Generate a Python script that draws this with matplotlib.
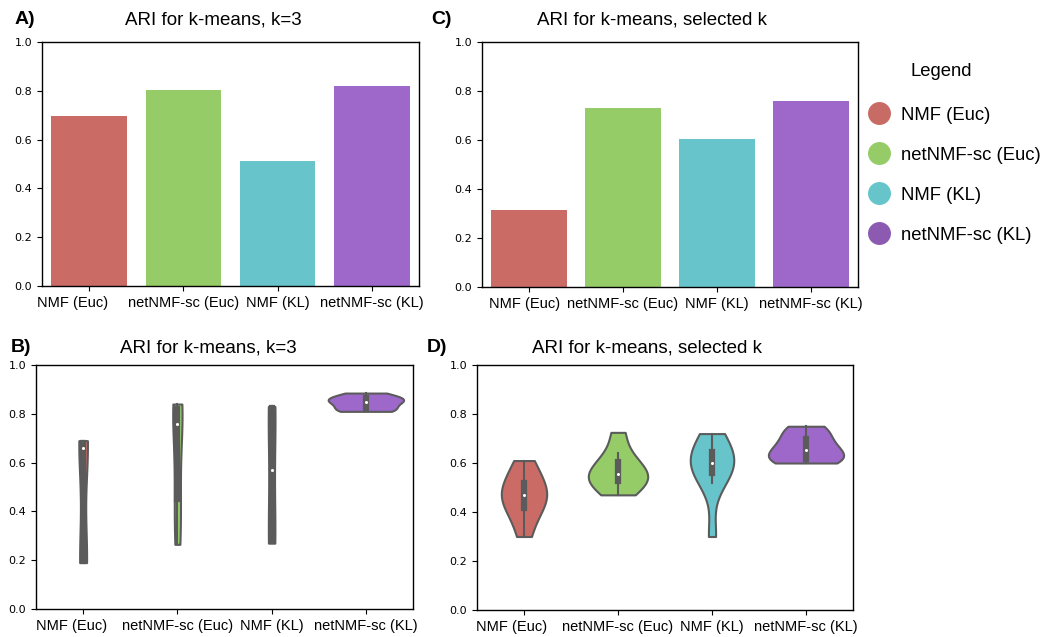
import numpy as np
import pandas as pd
import matplotlib
matplotlib.use("Agg")
import matplotlib.pyplot as plt
import matplotlib.transforms as mtransforms
from matplotlib.lines import Line2D
from matplotlib.collections import PolyCollection, PathCollection
import seaborn as sns

# Data
methods = ["NMF (Euc)", "netNMF-sc (Euc)", "NMF (KL)", "netNMF-sc (KL)"]
colors = ["#CB6B66", "#95CC68", "#68C4CB", "#9E68CB"]
legend_colors = ["#C96B65", "#95CC68", "#66C4CB", "#8C5AB1"]

# A) bar values, k=3
ari_k3 = [0.697, 0.803, 0.512, 0.820]
# C) bar values, selected k
ari_sel = [0.314, 0.731, 0.604, 0.759]

# B) per-run ARI values, k=3
b_nmf_euc = [0.19, 0.19, 0.20, 0.21, 0.66, 0.67, 0.68, 0.69, 0.69]
b_net_euc = [0.265, 0.30, 0.45, 0.50, 0.76, 0.80, 0.82, 0.83, 0.84]
b_nmf_kl = [0.27, 0.28, 0.28, 0.57, 0.82, 0.83, 0.83]
b_net_kl = [0.81, 0.815, 0.82, 0.84, 0.85, 0.855, 0.865, 0.87, 0.885]

# D) per-run ARI values, selected k
d_nmf_euc = [0.30, 0.38, 0.415, 0.45, 0.47, 0.49, 0.52, 0.56, 0.61]
d_net_euc = [0.47, 0.50, 0.525, 0.54, 0.555, 0.57, 0.605, 0.64, 0.725]
d_nmf_kl = [0.30, 0.52, 0.56, 0.585, 0.60, 0.615, 0.645, 0.68, 0.72]
d_net_kl = [0.60, 0.605, 0.615, 0.635, 0.655, 0.67, 0.70, 0.73, 0.75]

plt.rcParams['font.family'] = ['Liberation Sans', 'DejaVu Sans']

fig = plt.figure(figsize=(10.46, 6.37), dpi=100)

def long_df(groups):
    rows = []
    for name, vals in zip(methods, groups):
        for v in vals:
            rows.append((name, v))
    return pd.DataFrame(rows, columns=["method", "ari"])

def style_axes(ax, first_shift):
    ax.set_ylim(0, 1.0)
    ax.set_xlim(-0.5, 3.5)
    ax.set_yticks(np.arange(0, 1.01, 0.2))
    ax.set_yticklabels(["%.1f" % t for t in np.arange(0, 1.01, 0.2)],
                       family="DejaVu Sans", fontsize=8)
    ax.set_xticks(range(len(methods)))
    ax.set_xticklabels(methods, fontsize=10.5)
    ax.set_xlabel("")
    ax.set_ylabel("")
    for s in ax.spines.values():
        s.set_linewidth(1.0)
    # first label sits a bit left of its tick in the original
    lab = ax.get_xticklabels()[0]
    lab.set_transform(lab.get_transform() +
                      mtransforms.ScaledTranslation(first_shift/100, 0, fig.dpi_scale_trans))

def violins(ax, groups):
    sns.violinplot(data=long_df(groups), x="method", y="ari", color=colors[0],
                   cut=0, inner="box", density_norm="area", saturation=1,
                   linewidth=1.5, linecolor="#5b5b5b",
                   inner_kws=dict(box_width=4.5, whis_width=1.5, marker="o"),
                   ax=ax)
    polys = [c for c in ax.collections if isinstance(c, PolyCollection)]
    for p, c in zip(polys, colors):
        p.set_facecolor(c)
    # small white median dots
    for c in ax.collections:
        if isinstance(c, PathCollection):
            c.set_sizes([4])
            c.set_edgecolor("none")
    for ln in ax.lines:
        if ln.get_marker() not in (None, "None", "", " "):
            ln.set_markersize(2.2)
            ln.set_markeredgewidth(0)

# bar panels
ax_a = fig.add_axes([42/1046, 1-286/637, 377/1046, 244/637])
ax_a.bar(range(len(methods)), ari_k3, width=0.8, color=colors)
style_axes(ax_a, -17)

ax_c = fig.add_axes([482/1046, 1-287/637, 376/1046, 245/637])
ax_c.bar(range(len(methods)), ari_sel, width=0.8, color=colors)
style_axes(ax_c, -4)

# violin panels
ax_b = fig.add_axes([36/1046, 1-609/637, 377/1046, 244/637])
violins(ax_b, [b_nmf_euc, b_net_euc, b_nmf_kl, b_net_kl])
style_axes(ax_b, -12)

ax_d = fig.add_axes([477/1046, 1-610/637, 376/1046, 245/637])
violins(ax_d, [d_nmf_euc, d_net_euc, d_nmf_kl, d_net_kl])
style_axes(ax_d, -12)

# titles and panel letters
fig.text(213/1046, 1-20/637, "ARI for k-means, k=3", ha="center", va="center", fontsize=13.5)
fig.text(652/1046, 1-20/637, "ARI for k-means, selected k", ha="center", va="center", fontsize=13.5)
fig.text(208/1046, 1-348/637, "ARI for k-means, k=3", ha="center", va="center", fontsize=13.5)
fig.text(647/1046, 1-348/637, "ARI for k-means, selected k", ha="center", va="center", fontsize=13.5)
fig.text(15/1046, 1-20/637, "A)", ha="left", va="center", fontsize=14, weight="bold")
fig.text(431/1046, 1-20/637, "C)", ha="left", va="center", fontsize=14, weight="bold")
fig.text(11/1046, 1-347/637, "B)", ha="left", va="center", fontsize=14, weight="bold")
fig.text(427/1046, 1-347/637, "D)", ha="left", va="center", fontsize=14, weight="bold")

# legend
fig.text(941/1046, 1-72/637, "Legend", ha="center", va="center", fontsize=13.3)
handles = [Line2D([], [], marker="o", linestyle="", markersize=15.5,
                  markerfacecolor=c, markeredgecolor=c) for c in legend_colors]
leg = fig.legend(handles, methods, loc="upper left",
                 bbox_to_anchor=(851/1046, 1-90/637), frameon=False,
                 fontsize=13.3, labelspacing=1.25,
                 handletextpad=0.6, handlelength=1.2)

fig.savefig("out.png", dpi=100)
